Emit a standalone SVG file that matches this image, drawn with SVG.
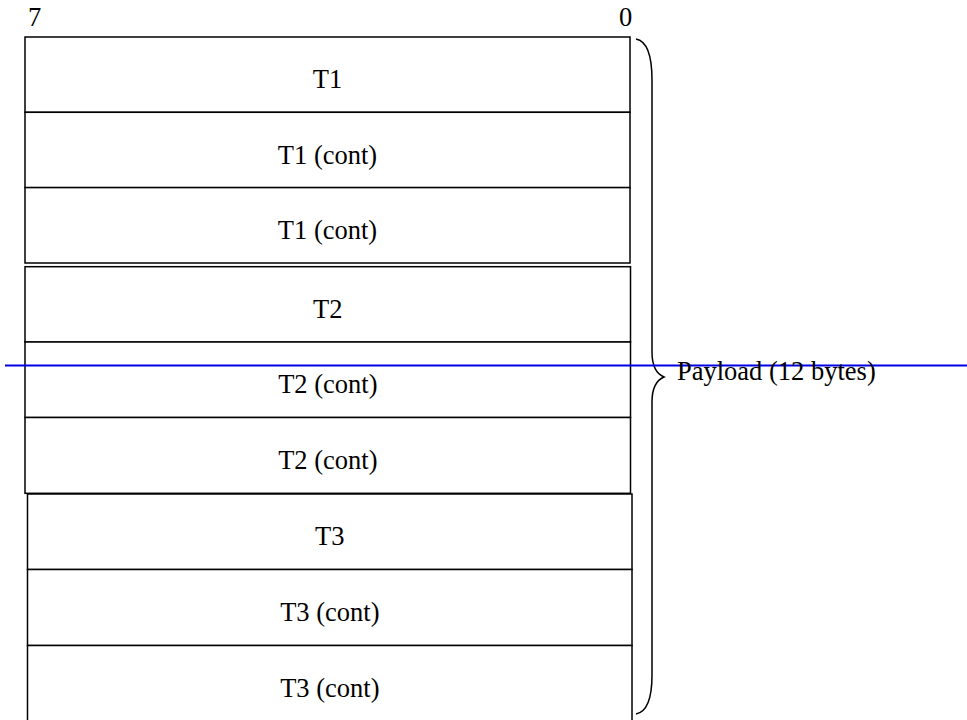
<svg xmlns="http://www.w3.org/2000/svg" width="967" height="720" viewBox="0 0 967 720">
<style>
.cell{fill:#fff;stroke:#000;stroke-width:1.5}
.t{font-family:"Liberation Serif","Times New Roman",serif;font-size:26.5px;fill:#000}
.c{text-anchor:middle}
.brace{fill:none;stroke:#000;stroke-width:1.5}
.guide{stroke:#0000e6;stroke-width:2}
</style>
<rect width="967" height="720" fill="#fff"/>
<text class="t" x="28" y="26">7</text>
<text class="t" x="619" y="26">0</text>
<g id="g1r1"><rect class="cell" x="25" y="37" width="605" height="75.3"/><text class="t c" x="327.5" y="88">T1</text></g>
<g id="g1r2"><rect class="cell" x="25" y="112.3" width="605" height="75.3"/><text class="t c" x="327.5" y="163.5">T1 (cont)</text></g>
<g id="g1r3"><rect class="cell" x="25" y="187.6" width="605" height="75.4"/><text class="t c" x="327.5" y="239">T1 (cont)</text></g>
<g id="g2r1"><rect class="cell" x="25" y="266.7" width="605.5" height="75.3"/><text class="t c" x="327.8" y="318">T2</text></g>
<g id="g2r2"><rect class="cell" x="25" y="342" width="605.5" height="75.5"/><text class="t c" x="327.8" y="393">T2 (cont)</text></g>
<g id="g2r3"><rect class="cell" x="25" y="417.5" width="605.5" height="75.8"/><text class="t c" x="327.8" y="469">T2 (cont)</text></g>
<g id="g3r1"><rect class="cell" x="27.5" y="494" width="604.5" height="75.5"/><text class="t c" x="329.8" y="545">T3</text></g>
<g id="g3r2"><rect class="cell" x="27.5" y="569.5" width="604.5" height="76"/><text class="t c" x="329.8" y="621">T3 (cont)</text></g>
<g id="g3r3"><rect class="cell" x="27.5" y="645.5" width="604.5" height="76"/><text class="t c" x="329.8" y="697">T3 (cont)</text></g>
<g id="connectors">
<path class="brace" d="M636,39 Q652,42 652,80 L652,352 Q652,372 664,377 Q652,382 652,402 L652,675 Q652,711 636,714"/>
<line class="guide" x1="5" y1="365.5" x2="967" y2="365.5"/>
</g>
<text class="t" x="677" y="380">Payload (12 bytes)</text>
</svg>
